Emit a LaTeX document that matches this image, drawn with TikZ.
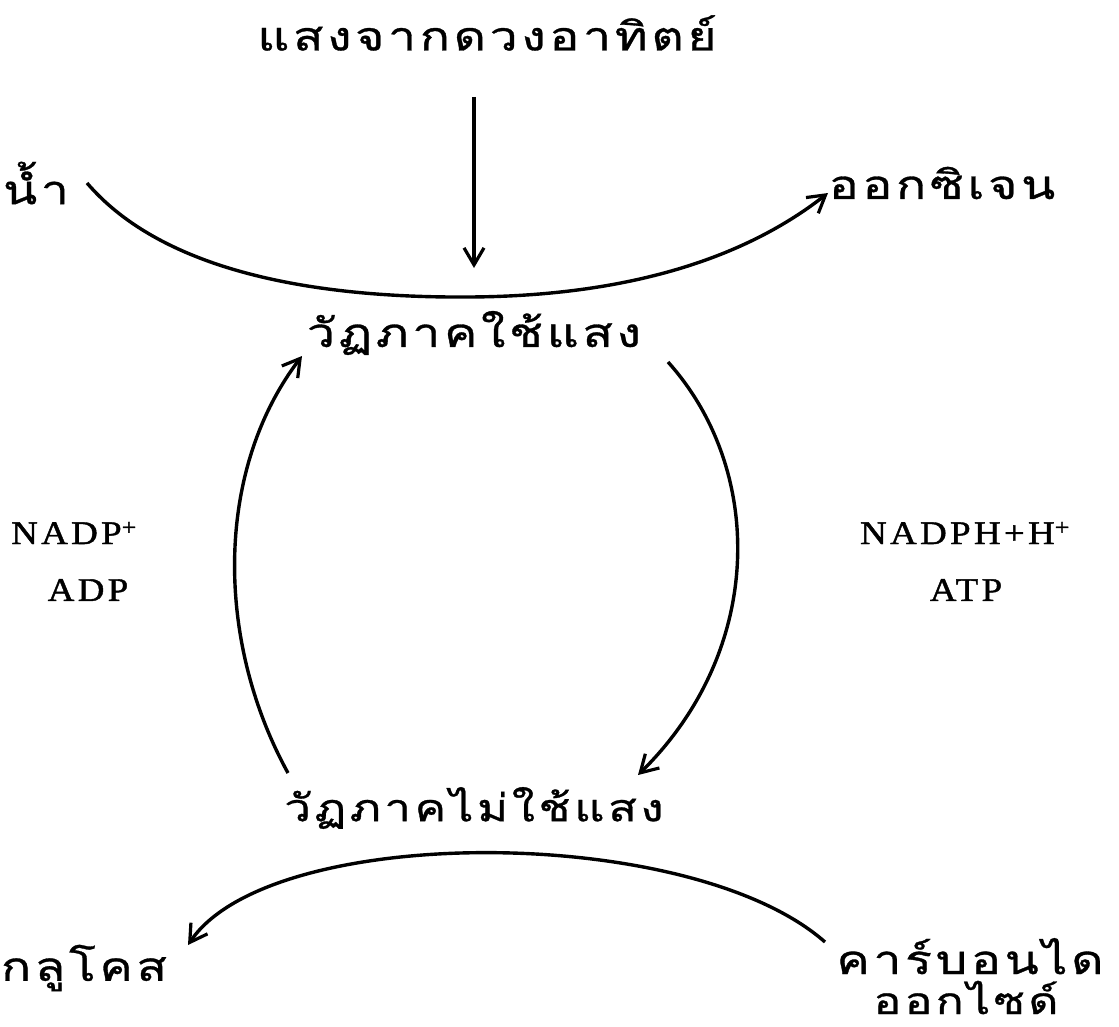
\documentclass[tikz,border=0pt]{standalone}
\usepackage{fontspec}
\newfontfamily\thaifont[Script=Thai,LetterSpace=9,FakeStretch=1.25,FakeBold=0.8]{Loma}
\newfontfamily\latinfont[LetterSpace=10,FakeStretch=1.12,FakeBold=1.3]{Liberation Serif}
\usetikzlibrary{arrows.meta}
\tikzset{
  thaitxt/.style={inner sep=0pt, font=\thaifont\fontsize{40}{37}\selectfont},
  lattxt/.style={inner sep=0pt, font=\latinfont\fontsize{33}{38}\selectfont},
  flow/.style={line width=3.4pt, -{Straight Barb[length=17pt,width=20pt,line width=3.2pt]}},
}
\begin{document}
\begin{tikzpicture}[x=1pt,y=-1pt]
\useasboundingbox (0,0) rectangle (1119,1027);
\node[thaitxt] (sun) at (487,33) {แสงจากดวงอาทิตย์};
\node[thaitxt] (water) at (36,183) {น้ำ};
\node[thaitxt] (oxy) at (942,183) {ออกซิเจน};
\node[thaitxt] (light) at (474,333) {วัฏภาคใช้แสง};
\node[thaitxt, font=\thaifont\fontsize{38}{37}\selectfont] (dark) at (474,808) {วัฏภาคไม่ใช้แสง};
\node[thaitxt] (glu) at (84,968) {กลูโคส};
\node[thaitxt, anchor=base] (co2) at (970,974) {คาร์บอนได};
\node[thaitxt, anchor=base, text depth=0pt, font=\thaifont\fontsize{37}{37}\selectfont] (co2b) at (966,1014) {ออกไซด์};
\node[lattxt] (nadp) at (74,533) {NADP\textsuperscript{+}};
\node[lattxt] (adp) at (88,590) {ADP};
\node[lattxt] (nadph) at (965,533) {NADPH+H\textsuperscript{+}};
\node[lattxt] (atp) at (966,590) {ATP};
\coordinate (sunS) at (474,97);
\coordinate (sunE) at (474,268);
\coordinate (wS) at (87,183);
\coordinate (mid) at (470,297);
\coordinate (oE) at (828,193);
\coordinate (lS) at (288,773);
\coordinate (lE) at (302,356);
\coordinate (rS) at (668,362);
\coordinate (rE) at (638,775);
\coordinate (cS) at (825,942);
\coordinate (gE) at (188,945);
\draw[flow] (sunS) -- (sunE);
\draw[flow] (wS) .. controls (170,280) and (340,298) .. (mid) .. controls (620,296) and (740,262) .. (oE);
\draw[flow] (lS) .. controls (215,640) and (215,470) .. (lE);
\draw[flow] (rS) .. controls (765,470) and (765,650) .. (rE);
\draw[flow] (cS) .. controls (690,823) and (270,823) .. (gE);
\end{tikzpicture}
\end{document}
